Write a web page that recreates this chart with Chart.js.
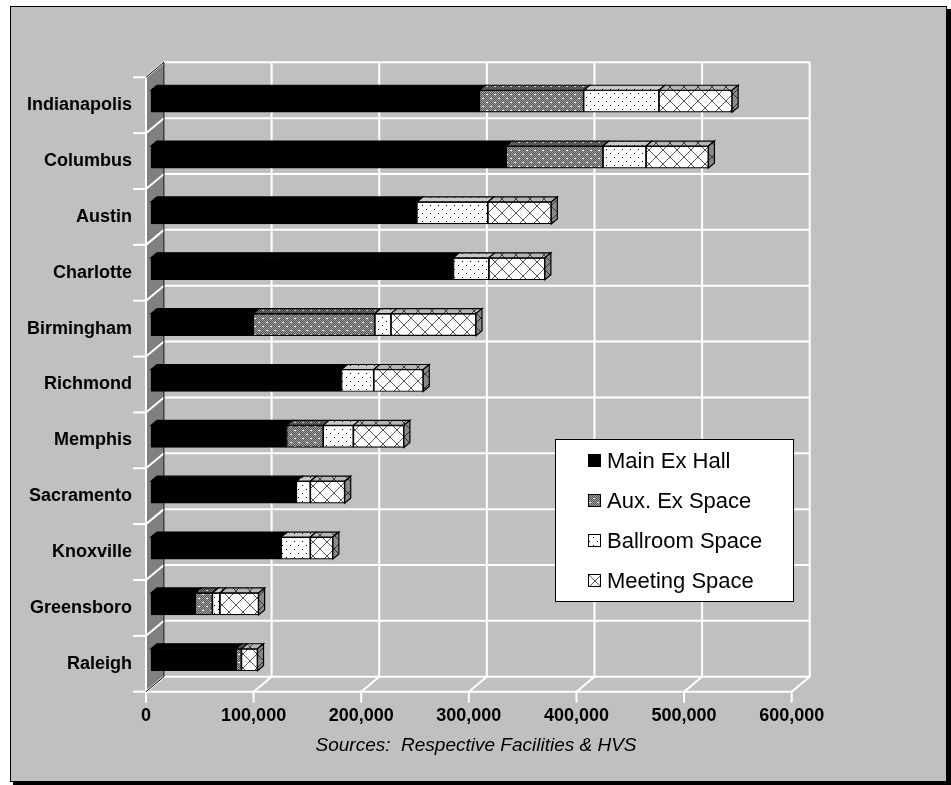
<!DOCTYPE html>
<html>
<head>
<meta charset="utf-8">
<script src="https://cdn.jsdelivr.net/npm/chart.js@4.4.0/dist/chart.umd.min.js"></script>
<style>
  html, body { margin: 0; padding: 0; background: #fff; }
  canvas { display: block; }
</style>
</head>
<body>
<canvas id="myChart" width="951" height="785"></canvas>
<script>
// data (square feet)
const labels = ['Indianapolis', 'Columbus', 'Austin', 'Charlotte', 'Birmingham',
                'Richmond', 'Memphis', 'Sacramento', 'Knoxville', 'Greensboro', 'Raleigh'];
const seriesNames = ['Main Ex Hall', 'Aux. Ex Space', 'Ballroom Space', 'Meeting Space'];
const mainHall = [305000, 330000, 247000, 281000, 95000, 177000, 126000, 135000, 121000, 41000, 79000];
const auxSpace = [97000, 90000, 0, 0, 113000, 0, 34000, 0, 0, 16000, 5000];
const ballroom = [70000, 40000, 66000, 33000, 15000, 30000, 28000, 13000, 27000, 7000, 0];
const meeting  = [68000, 58000, 59000, 52000, 79000, 46000, 47000, 32000, 21000, 36000, 15000];
const xMax = 600000;
const xStep = 100000;
const sourceNote = 'Sources:  Respective Facilities & HVS';

const FONT = "'Liberation Sans', Arial, sans-serif";
const WALL = {dx: 18, dy: -15};              // 3d depth of the walls
const BAR = {dx: 5, dy: -4, sx: 6, sy: -5};  // bar offset and bar depth

const canvas = document.getElementById('myChart');
const ctx = canvas.getContext('2d');

function makePattern(w, h, draw) {
  const c = document.createElement('canvas');
  c.width = w; c.height = h;
  draw(c.getContext('2d'), w, h);
  return ctx.createPattern(c, 'repeat');
}
function dither(base, dark, dash) {
  return makePattern(8, 8, (g) => {
    g.fillStyle = base; g.fillRect(0, 0, 8, 8);
    g.fillStyle = dark;
    for (let y = 0; y < 8; y++) for (let x = 0; x < 8; x++) if ((x + y) % 2 === 0) g.fillRect(x, y, 1, 1);
    g.fillStyle = dash;
    g.fillRect(1, 2, 2, 1); g.fillRect(5, 6, 2, 1);
  });
}
function dots(bg, dot) {
  return makePattern(8, 8, (g) => {
    g.fillStyle = bg; g.fillRect(0, 0, 8, 8);
    g.fillStyle = dot; g.fillRect(1, 1, 1, 1); g.fillRect(5, 5, 1, 1);
  });
}
function hatch(bg, line) {
  return makePattern(14, 14, (g, w, h) => {
    g.fillStyle = bg; g.fillRect(0, 0, w, h);
    g.strokeStyle = line; g.lineWidth = 1;
    g.beginPath();
    g.moveTo(0, 0); g.lineTo(w, h);
    g.moveTo(w, 0); g.lineTo(0, h);
    g.stroke();
  });
}

const frontFills = ['#000000', dither('#9a9a9a', '#5a5a5a', '#ffffff'), dots('#ffffff', '#000000'), hatch('#ffffff', '#555555')];
const topFills   = ['#000000', dither('#707070', '#404040', '#c0c0c0'), dots('#c8c8c8', '#000000'), hatch('#b4b4b4', '#404040')];
const sideFills  = ['#202020', dither('#606060', '#303030', '#a0a0a0'), dots('#909090', '#000000'), hatch('#8a8a8a', '#303030')];

function poly(c, pts, fill) {
  c.beginPath();
  c.moveTo(pts[0][0], pts[0][1]);
  for (let i = 1; i < pts.length; i++) c.lineTo(pts[i][0], pts[i][1]);
  c.closePath();
  c.fillStyle = fill; c.fill();
  c.strokeStyle = '#000'; c.lineWidth = 1.2; c.stroke();
}
function line(c, x1, y1, x2, y2) {
  c.beginPath(); c.moveTo(x1, y1); c.lineTo(x2, y2); c.stroke();
}

const wallsPlugin = {
  id: 'walls',
  beforeDraw(chart) {
    const {ctx: c, chartArea: a, scales: {x}} = chart;
    c.save();
    c.fillStyle = '#fff'; c.fillRect(0, 0, chart.width, chart.height);
    c.fillStyle = '#000'; c.fillRect(13, 9, 938, 776);
    c.fillStyle = '#c0c0c0'; c.fillRect(10, 6, 937, 776);
    c.strokeStyle = '#000'; c.lineWidth = 1; c.strokeRect(10.5, 6.5, 936, 775);

    const L = x.getPixelForValue(0), R = x.getPixelForValue(xMax);
    const T = a.top, B = a.bottom;
    const band = (B - T) / labels.length;
    const {dx, dy} = WALL;

    // back wall grid
    c.strokeStyle = '#fff'; c.lineWidth = 2;
    x.ticks.forEach(t => {
      const px = x.getPixelForValue(t.value);
      line(c, px + dx, T + dy, px + dx, B + dy);
      // floor diagonals and ticks
      line(c, px, B, px + dx, B + dy);
      line(c, px, B, px, B + 11);
    });
    for (let k = 0; k <= labels.length; k++) {
      line(c, L + dx, T + k * band + dy, R + dx, T + k * band + dy);
    }
    line(c, L, B, R, B);

    // left wall
    c.beginPath();
    c.moveTo(L, T); c.lineTo(L + dx, T + dy); c.lineTo(L + dx, B + dy); c.lineTo(L, B); c.closePath();
    c.fillStyle = '#808080'; c.fill();
    c.strokeStyle = '#fff'; c.lineWidth = 2;
    for (let k = 0; k <= labels.length; k++) {
      const yy = T + k * band;
      line(c, L, yy, L + dx, yy + dy);
      line(c, L - 13, yy, L, yy);
    }
    line(c, L, T, L, B);
    c.strokeStyle = '#000'; c.lineWidth = 1;
    line(c, L + dx, T + dy, L + dx, B + dy);
    line(c, L, T, L + dx, T + dy);
    line(c, L, B, L + dx, B + dy);
    c.restore();
  },
  beforeDatasetsDraw(chart) {
    chart.ctx.save();
    chart.ctx.translate(BAR.dx, BAR.dy);
  },
  afterDatasetsDraw(chart) {
    const c = chart.ctx;
    for (let i = 0; i < labels.length; i++) {
      let last = null;
      chart.data.datasets.forEach((ds, d) => {
        if (!ds.data[i]) return;
        const p = chart.getDatasetMeta(d).data[i].getProps(['x', 'y', 'base', 'height'], true);
        const top = p.y - p.height / 2;
        poly(c, [[p.base, top], [p.base + BAR.sx, top + BAR.sy], [p.x + BAR.sx, top + BAR.sy], [p.x, top]], topFills[d]);
        last = {p, d};
      });
      if (last) {
        const p = last.p, top = p.y - p.height / 2, bot = p.y + p.height / 2;
        poly(c, [[p.x, top], [p.x + BAR.sx, top + BAR.sy], [p.x + BAR.sx, bot + BAR.sy], [p.x, bot]], sideFills[last.d]);
      }
    }
    c.restore();
  },
  afterDraw(chart) {
    const c = chart.ctx;
    c.save();
    // legend box
    c.fillStyle = '#fff'; c.fillRect(556, 440, 237, 161);
    c.strokeStyle = '#000'; c.lineWidth = 1; c.strokeRect(555.5, 439.5, 238, 162);
    c.font = '22px ' + FONT; c.textBaseline = 'middle'; c.textAlign = 'left';
    seriesNames.forEach((name, i) => {
      const yy = 461 + i * 40;
      c.fillStyle = frontFills[i]; c.fillRect(588, yy - 7, 13, 13);
      c.strokeStyle = '#000'; c.strokeRect(588.5, yy - 6.5, 12, 12);
      c.fillStyle = '#000'; c.fillText(name, 607, yy + 1);
    });
    // source note
    c.font = 'italic 19px ' + FONT; c.textAlign = 'center';
    c.fillText(sourceNote, 476, 746);
    c.restore();
  }
};

const seriesData = [mainHall, auxSpace, ballroom, meeting];

const myChart = new Chart(canvas, {
  type: 'bar',
  data: {
    labels,
    datasets: seriesNames.map((name, i) => ({
      label: name,
      data: seriesData[i],
      backgroundColor: frontFills[i],
      borderColor: '#000',
      borderWidth: 1.2,
      borderSkipped: false,
      barThickness: 22,
      clip: false
    }))
  },
  options: {
    indexAxis: 'y',
    responsive: false,
    animation: false,
    devicePixelRatio: 1,
    layout: {padding: {left: 10, top: 77.3, right: 159.3, bottom: 53.3}},
    plugins: {legend: {display: false}, tooltip: {enabled: false}},
    scales: {
      x: {
        stacked: true,
        min: 0, max: xMax,
        grid: {display: false, drawTicks: false},
        border: {display: false},
        ticks: {
          stepSize: xStep,
          padding: 14,
          color: '#000',
          font: {family: FONT, size: 18, weight: 'bold'},
          callback: v => String(v).replace(/\B(?=(\d{3})+(?!\d))/g, ',')
        },
        afterFit: s => { s.height = 40; }
      },
      y: {
        stacked: true,
        grid: {display: false, drawTicks: false},
        border: {display: false},
        ticks: {
          padding: 14,
          color: '#000',
          font: {family: FONT, size: 18, weight: 'bold'}
        },
        afterFit: s => { s.width = 136; }
      }
    }
  },
  plugins: [wallsPlugin]
});
</script>
</body>
</html>
